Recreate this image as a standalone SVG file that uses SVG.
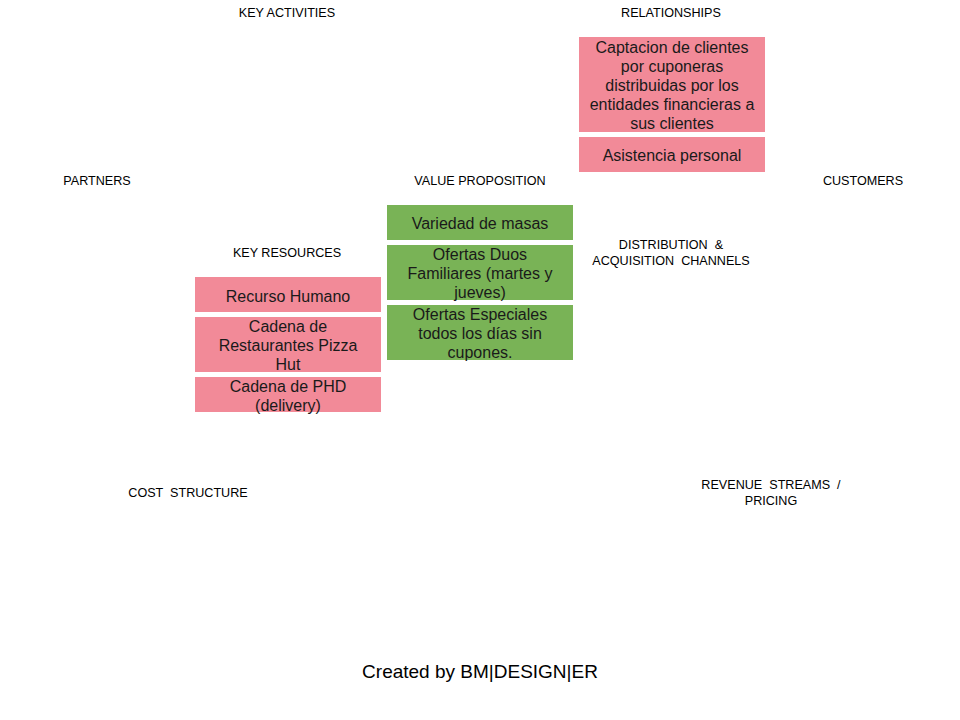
<svg xmlns="http://www.w3.org/2000/svg" width="960" height="720" viewBox="0 0 960 720">
<style>
.lbl{font-family:"Liberation Sans",Arial,sans-serif;font-size:12.6px;fill:#000;text-anchor:middle;white-space:pre}
.bt{font-family:"Liberation Sans",Arial,sans-serif;font-size:16px;fill:#1a1a1a;text-anchor:middle;white-space:pre}
.pink{fill:#F28A98}
.green{fill:#79B356}
.foot{font-family:"Liberation Sans",Arial,sans-serif;font-size:19px;fill:#000;text-anchor:middle}
</style>
<rect width="960" height="720" fill="#fff"/>
<g id="labels">
<text class="lbl" x="287" y="17">KEY ACTIVITIES</text>
<text class="lbl" x="671" y="17">RELATIONSHIPS</text>
<text class="lbl" x="97" y="185">PARTNERS</text>
<text class="lbl" x="480" y="185">VALUE PROPOSITION</text>
<text class="lbl" x="863" y="185">CUSTOMERS</text>
<text class="lbl" x="287" y="257">KEY RESOURCES</text>
<text class="lbl" x="671" y="249">DISTRIBUTION  &amp;</text>
<text class="lbl" x="671" y="265">ACQUISITION  CHANNELS</text>
<text class="lbl" x="188" y="497">COST  STRUCTURE</text>
<text class="lbl" x="771" y="489">REVENUE  STREAMS  /</text>
<text class="lbl" x="771" y="505">PRICING</text>
</g>
<g id="rel1">
<rect class="pink" x="579" y="37" width="186" height="95"/>
<text class="bt" x="672" y="53">Captacion de clientes</text>
<text class="bt" x="672" y="72">por cuponeras</text>
<text class="bt" x="672" y="91">distribuidas por los</text>
<text class="bt" x="672" y="110">entidades financieras a</text>
<text class="bt" x="672" y="129">sus clientes</text>
</g>
<g id="rel2">
<rect class="pink" x="579" y="137" width="186" height="35"/>
<text class="bt" x="672" y="161">Asistencia personal</text>
</g>
<g id="vp1">
<rect class="green" x="387" y="205" width="186" height="35"/>
<text class="bt" x="480" y="229">Variedad de masas</text>
</g>
<g id="vp2">
<rect class="green" x="387" y="245" width="186" height="55"/>
<text class="bt" x="480" y="260">Ofertas Duos</text>
<text class="bt" x="480" y="279">Familiares (martes y</text>
<text class="bt" x="480" y="298">jueves)</text>
</g>
<g id="vp3">
<rect class="green" x="387" y="305" width="186" height="55"/>
<text class="bt" x="480" y="320">Ofertas Especiales</text>
<text class="bt" x="480" y="339">todos los días sin</text>
<text class="bt" x="480" y="358">cupones.</text>
</g>
<g id="kr1">
<rect class="pink" x="195" y="277" width="186" height="35"/>
<text class="bt" x="288" y="302">Recurso Humano</text>
</g>
<g id="kr2">
<rect class="pink" x="195" y="317" width="186" height="55"/>
<text class="bt" x="288" y="332">Cadena de</text>
<text class="bt" x="288" y="351">Restaurantes Pizza</text>
<text class="bt" x="288" y="370">Hut</text>
</g>
<g id="kr3">
<rect class="pink" x="195" y="377" width="186" height="35"/>
<text class="bt" x="288" y="392">Cadena de PHD</text>
<text class="bt" x="288" y="411">(delivery)</text>
</g>
<g id="connectors"></g>
<text class="foot" x="480" y="678">Created by BM|DESIGN|ER</text>
</svg>
